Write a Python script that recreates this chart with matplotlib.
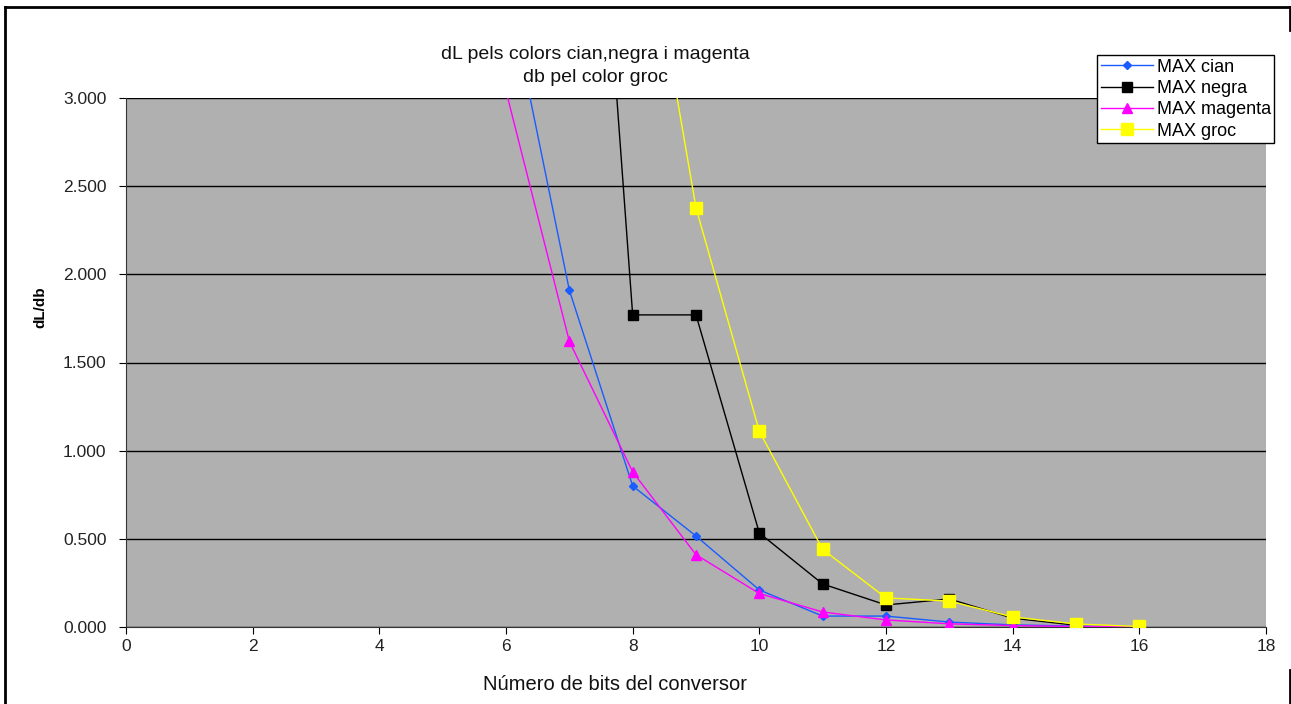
import matplotlib.pyplot as plt
from matplotlib.lines import Line2D
from matplotlib.ticker import FuncFormatter, MultipleLocator

plt.rcParams['font.family'] = ['Liberation Sans', 'DejaVu Sans']

# values
cian_x = [6, 7, 8, 9, 10, 11, 12, 13, 14, 15, 16]
cian_y = [3.67, 1.91, 0.80, 0.516, 0.21, 0.062, 0.062, 0.028, 0.012, 0.005, 0.002]

negra_x = [7, 8, 9, 10, 11, 12, 13, 14, 15]
negra_y = [6.69, 1.77, 1.77, 0.533, 0.244, 0.125, 0.159, 0.05, 0.01]

magenta_x = [6, 7, 8, 9, 10, 11, 12, 13, 14, 15, 16]
magenta_y = [3.04, 1.62, 0.88, 0.41, 0.19, 0.085, 0.04, 0.018, 0.008, 0.003, 0.001]

groc_x = [8, 9, 10, 11, 12, 13, 14, 15, 16]
groc_y = [4.47, 2.377, 1.11, 0.44, 0.165, 0.147, 0.057, 0.017, 0.003]

W, H = 1291, 704
fig = plt.figure(figsize=(W / 100, H / 100), dpi=100)
ax = fig.add_axes([126 / W, 1 - 627 / H, 1140 / W, 529 / H])
ax.set_facecolor('#b0b0b0')

ax.plot(cian_x, cian_y, color='#1a5cff', lw=1, marker='D', ms=4, label='MAX cian', zorder=3)
ax.plot(negra_x, negra_y, color='black', lw=1, marker='s', ms=7, label='MAX negra', zorder=3)
ax.plot(magenta_x, magenta_y, color='#ff00ff', lw=1, marker='^', ms=7, label='MAX magenta', zorder=3)
ax.plot(groc_x, groc_y, color='#ffff00', lw=1, marker='s', ms=8, label='MAX groc', zorder=3)

ax.set_xlim(0, 18)
ax.set_ylim(0, 3)
ax.xaxis.set_major_locator(MultipleLocator(2))
ax.yaxis.set_major_locator(MultipleLocator(0.5))
ax.yaxis.set_major_formatter(FuncFormatter(lambda v, p: f'{v:.3f}'))
ax.grid(axis='y', color='black', lw=1, zorder=1)
ax.set_axisbelow(True)
ax.tick_params(labelsize=12.5, direction='out', length=5, color='black', labelcolor='#222222')
ax.tick_params(axis='y', pad=9)
for side in ['top', 'right']:
    ax.spines[side].set_visible(False)
for side in ['left', 'bottom']:
    ax.spines[side].set_color('#333333')

fig.text(595 / W, 1 - 66 / H, 'dL pels colors cian,negra i magenta\ndb pel color groc',
         fontsize=14, ha='center', va='center', linespacing=1.4, color='#111111')
fig.text(615 / W, 1 - 685 / H, 'Número de bits del conversor', fontsize=14.5,
         ha='center', va='center', color='#111111')
fig.text(40 / W, 1 - 307 / H, 'dL/db', fontsize=11, fontweight='bold', rotation=90,
         ha='center', va='center')

leg = ax.legend(loc='upper left', bbox_to_anchor=(1097 / W, 1 - 55 / H),
                bbox_transform=fig.transFigure, fontsize=13,
                frameon=True, fancybox=False, edgecolor='black', framealpha=1,
                handlelength=2.9, handletextpad=0.2, labelspacing=0.24,
                borderpad=0.2, borderaxespad=0)
leg.get_frame().set_linewidth(1)

# outer chart border
border = dict(color='black', lw=2, transform=fig.transFigure)
fig.add_artist(Line2D([5 / W, 5 / W], [0, 1 - 7 / H], **border))
fig.add_artist(Line2D([5 / W, 1290 / W], [1 - 7 / H, 1 - 7 / H], **border))
fig.add_artist(Line2D([1290 / W, 1290 / W], [1 - 7 / H, 1 - 30 / H], **border))
fig.add_artist(Line2D([1290 / W, 1290 / W], [1 - 670 / H, 0], **border))

fig.savefig('out.png', dpi=100)
